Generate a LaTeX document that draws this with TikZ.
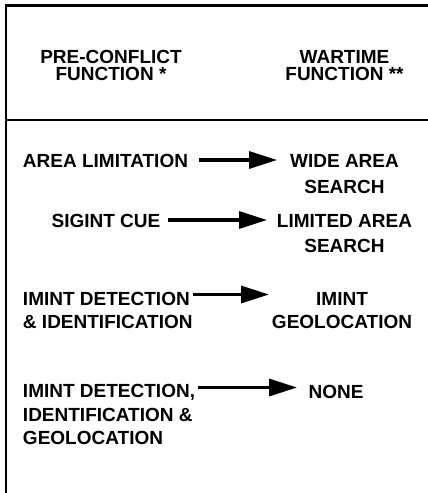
\documentclass[tikz,border=0pt]{standalone}
\usepackage{fontspec}
\setmainfont{Liberation Sans}
\usetikzlibrary{arrows.meta}
\begin{document}
\begin{tikzpicture}[x=1pt,y=-1pt,
  rule/.style={line width=2.6pt, line join=miter, black},
  txt/.style={inner sep=0pt, outer sep=0pt, anchor=base,
    font=\fontsize{19}{#1}\selectfont\bfseries},
  txt/.default={23.3},
  flow/.style={line width=3.3pt, -{Triangle[length=28pt,width=17pt]}}
]
\useasboundingbox (0,0) rectangle (428,493);

% table frame and header rule
\draw[rule] (6,493) -- (6,5.5) -- (428,5.5);
\draw[rule] (6,120) -- (428,120);

% column headings (anchored at the baseline of the last line)
\node[txt=17.5, align=center] (h1) at (111,80.5) {PRE-CONFLICT\\FUNCTION *};
\node[txt=17.5, align=center] (h2) at (344.5,80.5) {WARTIME\\FUNCTION **};

% pre-conflict functions
\node[txt, anchor=base west] (a1) at (23,167) {AREA LIMITATION};
\node[txt] (a2) at (106,227) {SIGINT CUE};
\node[txt=23, anchor=base west, align=left] (a3) at (23,328) {IMINT DETECTION\\\& IDENTIFICATION};
\node[txt=23.3, anchor=base west, align=left] (a4) at (23,444.5) {IMINT DETECTION,\\IDENTIFICATION \&\\GEOLOCATION};

% wartime functions
\node[txt=26, align=center] (b1) at (344.5,193) {WIDE AREA\\SEARCH};
\node[txt=25, align=center] (b2) at (344.5,252) {LIMITED AREA\\SEARCH};
\node[txt=23, align=center] (b3) at (342,328) {IMINT\\GEOLOCATION};
\node[txt] (b4) at (336,398) {NONE};

% arrow end points
\coordinate (p1) at (199,160);   \coordinate (q1) at (277,160);
\coordinate (p2) at (168,220);   \coordinate (q2) at (267,220);
\coordinate (p3) at (193,294.5); \coordinate (q3) at (269,294.5);
\coordinate (p4) at (198,387.5); \coordinate (q4) at (297,387.5);

\draw[flow] (p1) -- (q1);
\draw[flow] (p2) -- (q2);
\draw[flow] (p3) -- (q3);
\draw[flow] (p4) -- (q4);
\end{tikzpicture}
\end{document}
